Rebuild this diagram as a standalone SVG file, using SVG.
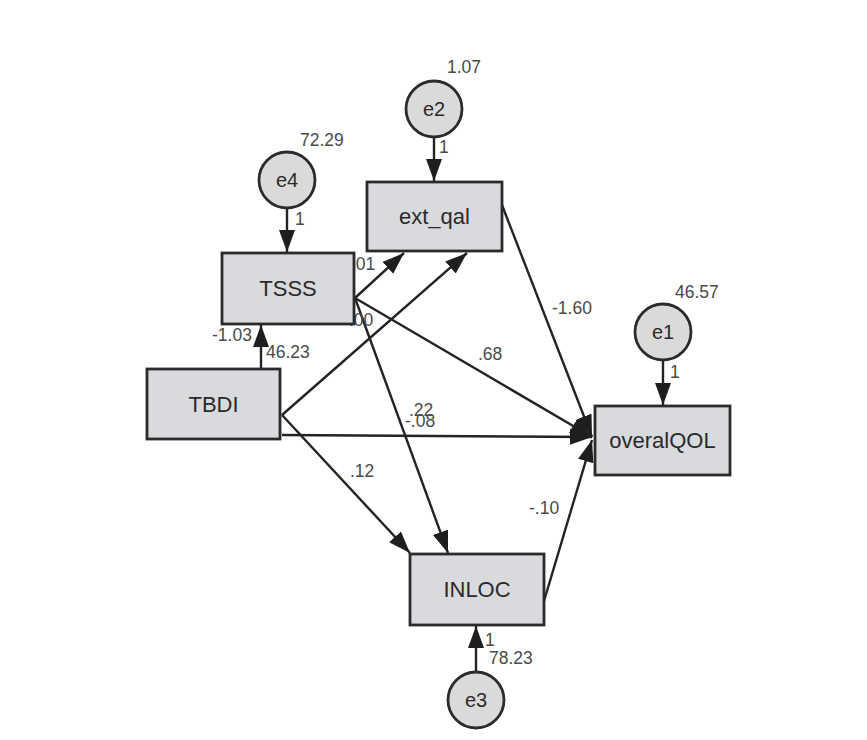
<svg xmlns="http://www.w3.org/2000/svg" width="867" height="740" viewBox="0 0 867 740">
  <style>
    .box { fill: #d9dadd; stroke: #2b2b2b; stroke-width: 2.8; }
    .err { fill: #dadada; stroke: #2b2b2b; stroke-width: 2.8; }
    .name { font-family: "Liberation Sans", Arial, sans-serif; font-size: 22px; fill: #2a2a2a; text-anchor: middle; }
    .ename { font-family: "Liberation Sans", Arial, sans-serif; font-size: 20px; fill: #2a2a2a; text-anchor: middle; }
    .num { font-family: "Liberation Sans", Arial, sans-serif; font-size: 17.5px; fill: #4a4a4a; }
    .path { stroke: #232323; stroke-width: 2.4; fill: none; marker-end: url(#head); }
  </style>
  <defs>
    <marker id="head" markerUnits="userSpaceOnUse" markerWidth="24" markerHeight="18" refX="22" refY="8" orient="auto">
      <path d="M0,0 L22,8 L0,16 z" fill="#1e1e1e"/>
    </marker>
  </defs>
  <rect width="867" height="740" fill="#ffffff"/>

  <!-- paths and their estimates -->
  <g id="connectors">
    <line class="path" x1="434" y1="137" x2="434" y2="181"/>
    <line class="path" x1="287" y1="208" x2="287" y2="252"/>
    <line class="path" x1="663" y1="360" x2="663" y2="405"/>
    <line class="path" x1="476" y1="672" x2="476" y2="626"/>
    <line class="path" x1="261" y1="369" x2="261" y2="325"/>
    <line class="path" x1="355" y1="298" x2="404" y2="253"/>
    <line class="path" x1="282" y1="415" x2="467" y2="253"/>
    <line class="path" x1="355" y1="298" x2="592" y2="437"/>
    <line class="path" x1="355" y1="298" x2="448" y2="553"/>
    <line class="path" x1="282" y1="435" x2="592" y2="437"/>
    <line class="path" x1="282" y1="415" x2="410" y2="553"/>
    <line class="path" x1="502" y1="205" x2="592" y2="437"/>
    <line class="path" x1="544" y1="601" x2="592" y2="440"/>

    <text class="num" x="447" y="73">1.07</text>
    <text class="num" x="439" y="153">1</text>
    <text class="num" x="300" y="146">72.29</text>
    <text class="num" x="295" y="225">1</text>
    <text class="num" x="351" y="270">.01</text>
    <text class="num" x="349" y="326">.00</text>
    <text class="num" x="212" y="341">-1.03</text>
    <text class="num" x="266" y="358">46.23</text>
    <text class="num" x="552" y="314">-1.60</text>
    <text class="num" x="478" y="360">.68</text>
    <text class="num" x="675" y="298">46.57</text>
    <text class="num" x="670" y="378">1</text>
    <text class="num" x="409" y="416">.22</text>
    <text class="num" x="405" y="427">-.08</text>
    <text class="num" x="350" y="477">.12</text>
    <text class="num" x="529" y="514">-.10</text>
    <text class="num" x="485" y="646">1</text>
    <text class="num" x="489" y="664">78.23</text>
  </g>

  <!-- observed variables -->
  <g id="ext_qal">
    <rect class="box" x="367" y="182" width="135" height="69"/>
    <text class="name" x="434.5" y="224">ext_qal</text>
  </g>
  <g id="TSSS">
    <rect class="box" x="222" y="253" width="132" height="71"/>
    <text class="name" x="288" y="296">TSSS</text>
  </g>
  <g id="TBDI">
    <rect class="box" x="147" y="369" width="133" height="70"/>
    <text class="name" x="213.5" y="412">TBDI</text>
  </g>
  <g id="overalQOL">
    <rect class="box" x="595" y="406" width="135" height="69"/>
    <text class="name" x="662.5" y="448">overalQOL</text>
  </g>
  <g id="INLOC">
    <rect class="box" x="410" y="554" width="134" height="71"/>
    <text class="name" x="477" y="597">INLOC</text>
  </g>

  <!-- error terms -->
  <g id="e2">
    <circle class="err" cx="434" cy="109" r="28"/>
    <text class="ename" x="434" y="116">e2</text>
  </g>
  <g id="e4">
    <circle class="err" cx="287" cy="180" r="28"/>
    <text class="ename" x="287" y="187">e4</text>
  </g>
  <g id="e1">
    <circle class="err" cx="663" cy="332" r="28"/>
    <text class="ename" x="663" y="339">e1</text>
  </g>
  <g id="e3">
    <circle class="err" cx="476" cy="700" r="28"/>
    <text class="ename" x="476" y="707">e3</text>
  </g>
</svg>
